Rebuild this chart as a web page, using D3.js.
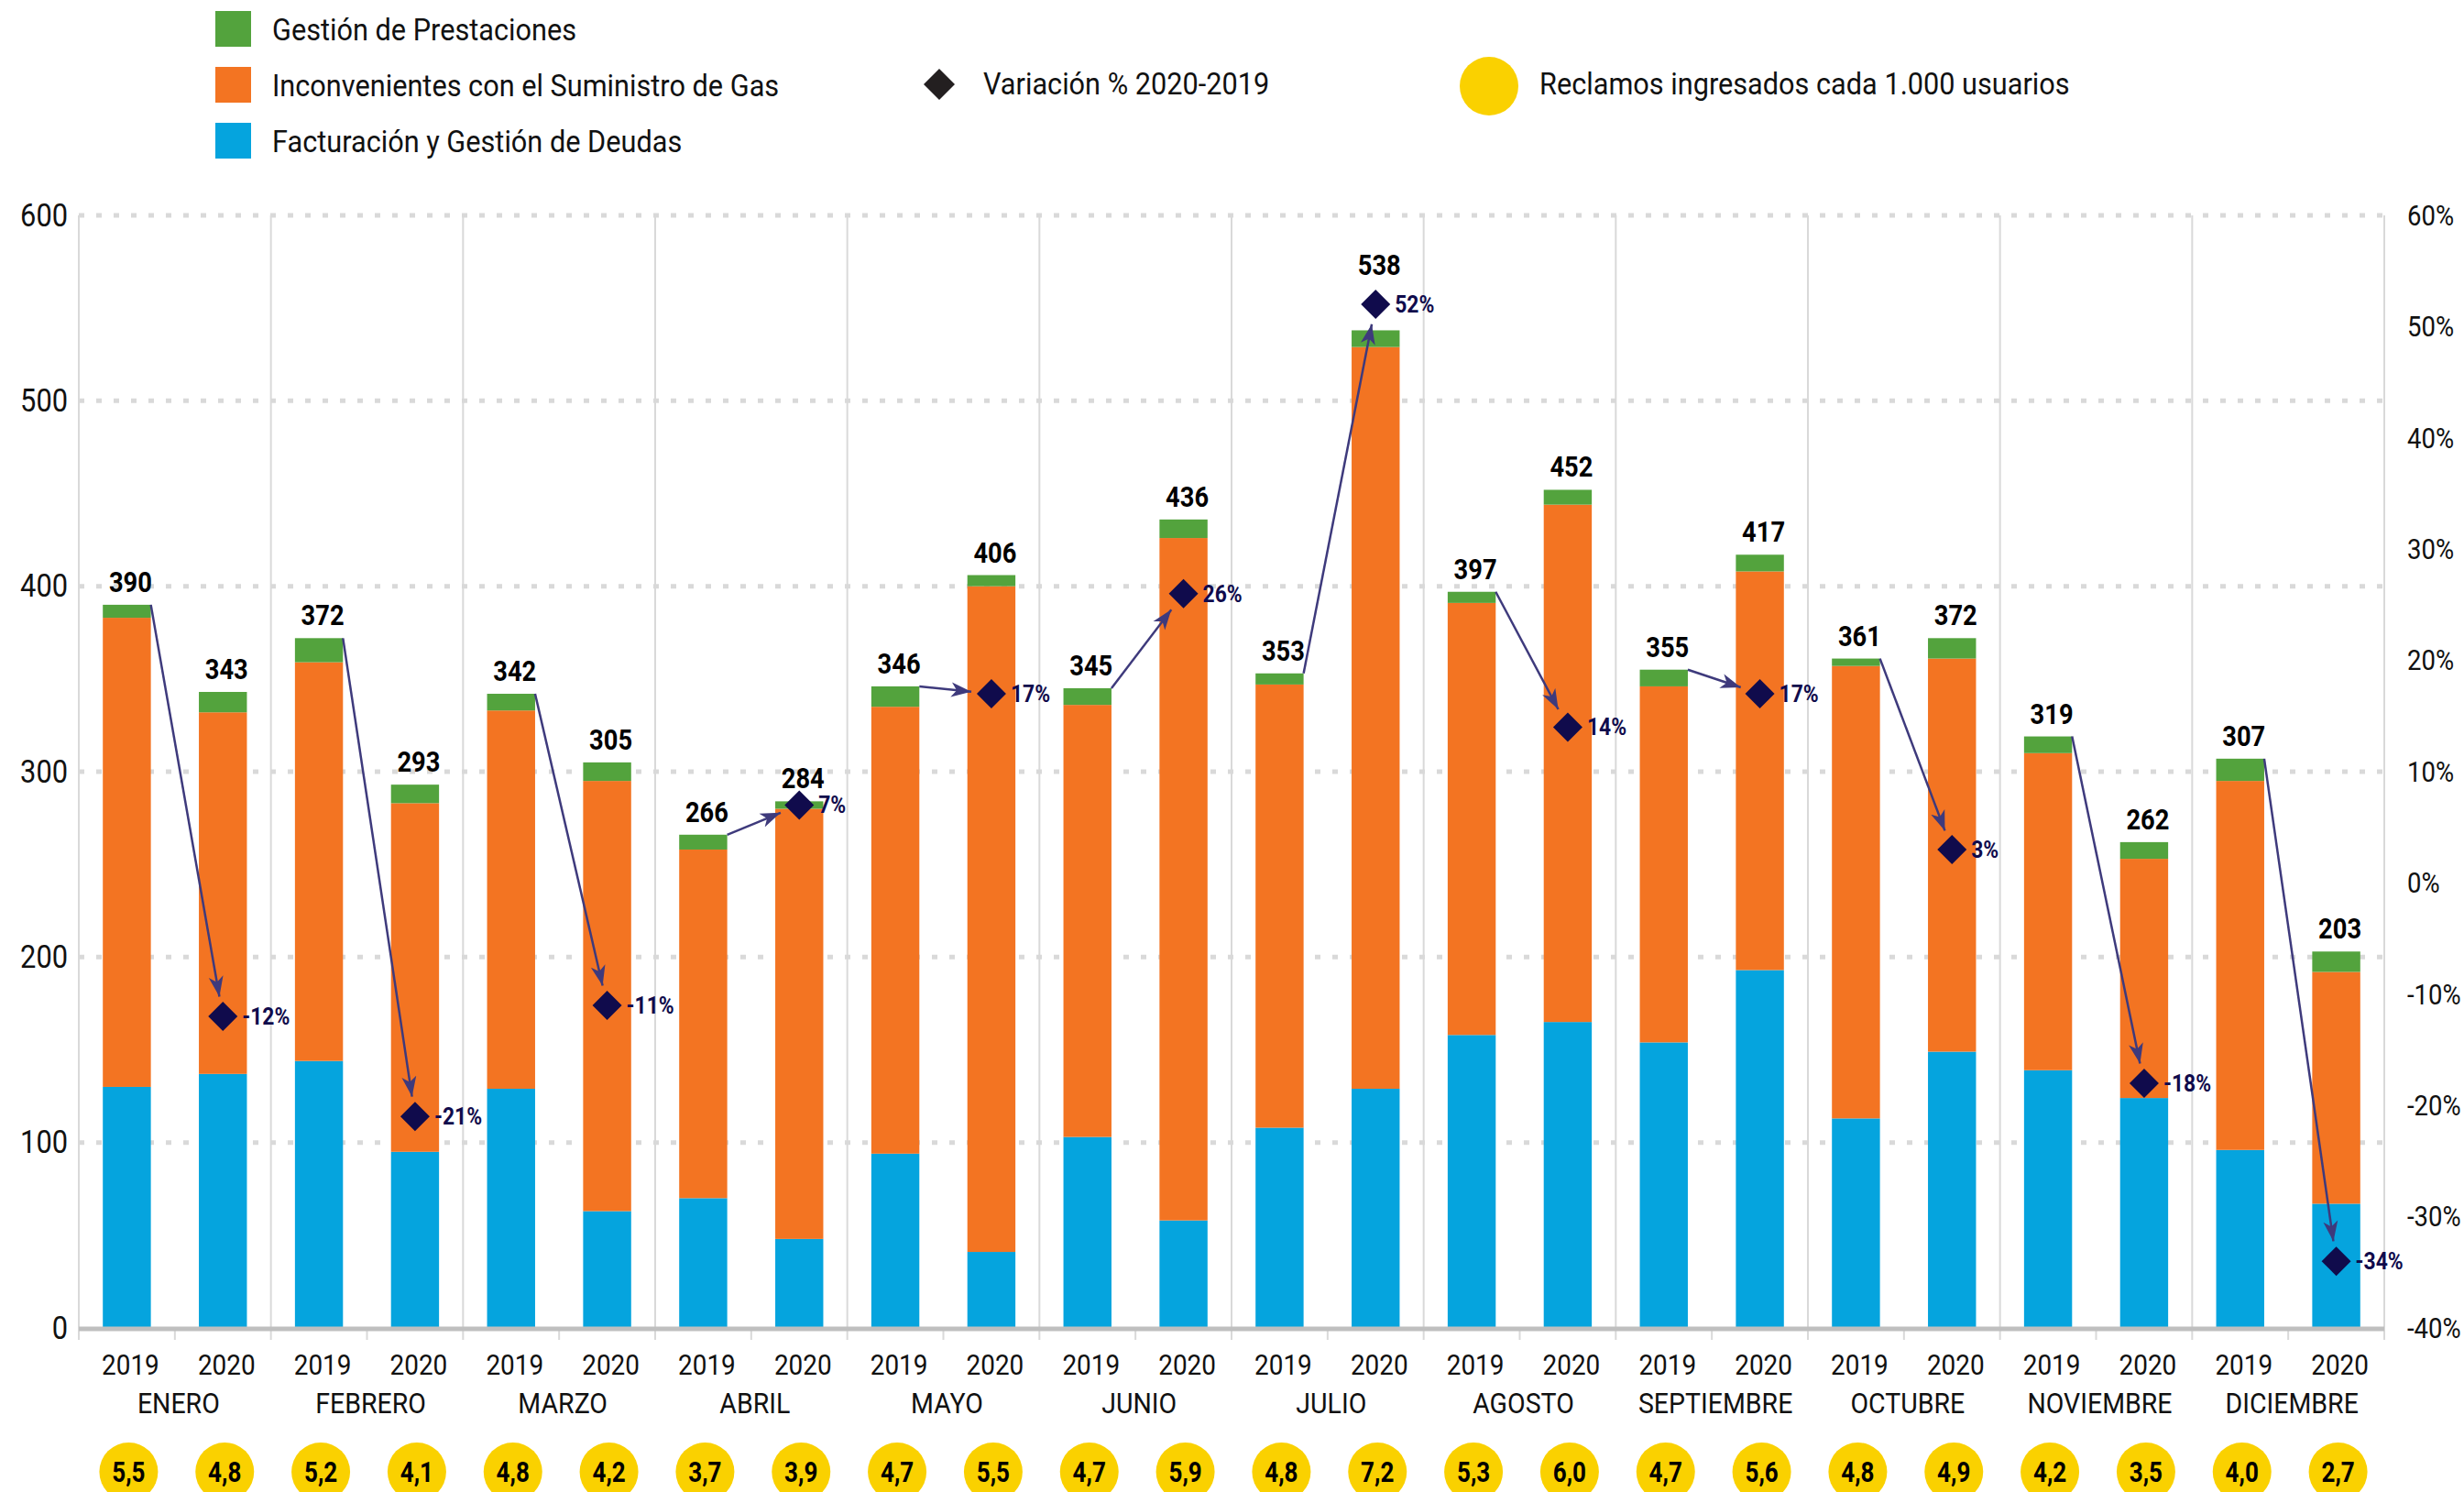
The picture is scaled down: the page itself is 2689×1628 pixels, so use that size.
<!DOCTYPE html>
<html>
<head>
<meta charset="utf-8">
<script src="https://cdn.jsdelivr.net/npm/d3@7"></script>
<style>
  body { margin: 0; background: #fff; }
  svg text { font-family: Roboto, "Liberation Sans", sans-serif; }
</style>
</head>
<body>
<div id="chart"></div>
<script>
// datos
var meses = ['ENERO','FEBRERO','MARZO','ABRIL','MAYO','JUNIO','JULIO','AGOSTO','SEPTIEMBRE','OCTUBRE','NOVIEMBRE','DICIEMBRE'];
var anios = ['2019','2020'];

var facturacion2019 = [130,144,129,70,94,103,108,158,154,113,139,96];
var facturacion2020 = [137,95,63,48,41,58,129,165,193,149,124,67];
var suministro2019  = [253,215,204,188,241,233,239,233,192,244,171,199];
var suministro2020  = [195,188,232,232,359,368,400,279,215,212,129,125];
var prestaciones2019 = [7,13,9,8,11,9,6,6,9,4,9,12];
var prestaciones2020 = [11,10,10,4,6,10,9,8,9,11,9,11];
var total2019 = [390,372,342,266,346,345,353,397,355,361,319,307];
var total2020 = [343,293,305,284,406,436,538,452,417,372,262,203];
var variacion = [-12,-21,-11,7,17,26,52,14,17,3,-18,-34];
var reclamos2019 = ['5,5','5,2','4,8','3,7','4,7','4,7','4,8','5,3','4,7','4,8','4,2','4,0'];
var reclamos2020 = ['4,8','4,1','4,2','3,9','5,5','5,9','7,2','6,0','5,6','4,9','3,5','2,7'];

var leftTicks = [0,100,200,300,400,500,600];
var rightTicks = [-40,-30,-20,-10,0,10,20,30,40,50,60];

var colors = {fact: '#05a4de', sum: '#f37422', prest: '#53a33d', yellow: '#fad100', navy: '#100b4c', arrow: '#3e3a7c'};

var W = 2689, H = 1628;
var plot = {left: 86, right: 2602, top: 235, bottom: 1449};

var svg = d3.select('#chart').append('svg')
    .attr('width', W)
    .attr('height', H);

// comprime horizontalmente el texto (imita una fuente condensada)
function condense(sel, k) {
  sel.each(function() {
    var t = d3.select(this);
    var x = +t.attr('x') || 0;
    t.attr('transform', 'translate(' + x + ',0) scale(' + k + ',1) translate(' + (-x) + ',0)');
  });
}

var defs = svg.append('defs');
defs.append('marker')
    .attr('id', 'flecha')
    .attr('markerUnits', 'userSpaceOnUse')
    .attr('markerWidth', 24).attr('markerHeight', 18)
    .attr('refX', 22).attr('refY', 9)
    .attr('orient', 'auto')
  .append('path')
    .attr('d', 'M0,1 L22,9 L0,17 L6,9 Z')
    .attr('fill', colors.arrow);

var x0 = d3.scaleBand().domain(meses).range([plot.left, plot.right]);
var x1 = d3.scaleBand().domain(anios).range([0, x0.bandwidth()]).paddingInner(0.5).paddingOuter(0.25);
var y = d3.scaleLinear().domain([0, 600]).range([plot.bottom, plot.top]);
var y2 = d3.scaleLinear().domain([-40, 60]).range([plot.bottom, plot.top]);

// centro de cada barra
function cx(mes, anio) { return x0(mes) + x1(anio) + x1.bandwidth() / 2; }

// grid horizontal punteado
svg.append('g').selectAll('line')
  .data(leftTicks.filter(function(d){ return d > 0; }))
  .enter().append('line')
    .attr('x1', plot.left).attr('x2', plot.right)
    .attr('y1', d => y(d)).attr('y2', d => y(d))
    .attr('stroke', '#d9d9d9')
    .attr('stroke-width', 5)
    .attr('stroke-dasharray', '6,13');

// separadores verticales entre meses
var seps = meses.map(m => x0(m)).concat([plot.right]);
svg.append('g').selectAll('line')
  .data(seps)
  .enter().append('line')
    .attr('x1', d => d).attr('x2', d => d)
    .attr('y1', plot.top).attr('y2', plot.bottom + 13)
    .attr('stroke', '#d9d9d9')
    .attr('stroke-width', 2);

// ticks cortos a mitad de cada mes
svg.append('g').selectAll('line')
  .data(meses)
  .enter().append('line')
    .attr('x1', d => x0(d) + x0.bandwidth() / 2).attr('x2', d => x0(d) + x0.bandwidth() / 2)
    .attr('y1', plot.bottom).attr('y2', plot.bottom + 13)
    .attr('stroke', '#d9d9d9')
    .attr('stroke-width', 2);

// filas para apilar
var rows = [];
meses.forEach(function(m, i) {
  rows.push({mes: m, anio: '2019', fact: facturacion2019[i], sum: suministro2019[i], prest: prestaciones2019[i], total: total2019[i], rec: reclamos2019[i], i: i});
  rows.push({mes: m, anio: '2020', fact: facturacion2020[i], sum: suministro2020[i], prest: prestaciones2020[i], total: total2020[i], rec: reclamos2020[i], i: i});
});

var stack = d3.stack().keys(['fact', 'sum', 'prest']);
var series = stack(rows);

svg.append('g').selectAll('g')
  .data(series)
  .enter().append('g')
    .attr('fill', d => colors[d.key])
  .selectAll('rect')
  .data(d => d)
  .enter().append('rect')
    .attr('x', d => x0(d.data.mes) + x1(d.data.anio))
    .attr('width', x1.bandwidth())
    .attr('y', d => y(d[1]))
    .attr('height', d => y(d[0]) - y(d[1]));

// eje en cero
svg.append('line')
    .attr('x1', plot.left).attr('x2', plot.right)
    .attr('y1', plot.bottom + 1).attr('y2', plot.bottom + 1)
    .attr('stroke', '#bfbfbf')
    .attr('stroke-width', 5);

// flechas 2019 -> variacion
var arrows = meses.map(function(m, i) {
  var sx = x0(m) + x1('2019') + x1.bandwidth();
  var sy = y(total2019[i]);
  var ex = cx(m, '2020');
  var ey = y2(variacion[i]);
  var len = Math.hypot(ex - sx, ey - sy);
  var k = (len - 22) / len;
  return {sx: sx, sy: sy, ex: sx + (ex - sx) * k, ey: sy + (ey - sy) * k};
});
svg.append('g').selectAll('line')
  .data(arrows)
  .enter().append('line')
    .attr('x1', d => d.sx).attr('y1', d => d.sy)
    .attr('x2', d => d.ex).attr('y2', d => d.ey)
    .attr('stroke', colors.arrow)
    .attr('stroke-width', 2.5)
    .attr('marker-end', 'url(#flecha)');

// rombos
var dg = svg.append('g');
dg.selectAll('path')
  .data(variacion)
  .enter().append('path')
    .attr('transform', (d, i) => 'translate(' + cx(meses[i], '2020') + ',' + y2(d) + ')')
    .attr('d', 'M0,-16 L16,0 L0,16 L-16,0 Z')
    .attr('fill', colors.navy);
dg.selectAll('text')
  .data(variacion)
  .enter().append('text')
    .attr('x', (d, i) => cx(meses[i], '2020') + 21)
    .attr('y', d => y2(d) + 9)
    .attr('font-size', '26px')
    .attr('font-weight', 'bold')
    .attr('fill', colors.navy)
    .text(d => d + '%')
    .call(condense, 0.88);

// etiquetas de totales
svg.append('g').selectAll('text')
  .data(rows)
  .enter().append('text')
    .attr('x', d => cx(d.mes, d.anio) + 4)
    .attr('y', function(d) {
      var yy = y(d.total) - 14;
      if (d.anio === '2020' && y2(variacion[d.i]) < y(d.total) - 5) {
        yy = Math.min(yy, y2(variacion[d.i]) - 32);
      }
      return yy;
    })
    .attr('text-anchor', 'middle')
    .attr('font-size', '31px')
    .attr('font-weight', 'bold')
    .attr('fill', '#000')
    .text(d => d.total)
    .call(condense, 0.88);

// eje izquierdo
var yAx = svg.append('g')
    .attr('transform', 'translate(' + plot.left + ',0)')
    .call(d3.axisLeft(y).tickValues(leftTicks).tickSize(0).tickPadding(12));
yAx.select('.domain').remove();
yAx.selectAll('text')
    .attr('font-size', '35px')
    .attr('fill', '#111')
    .attr('font-family', 'Roboto')
    .call(condense, 0.88);

// eje derecho
var y2Ax = svg.append('g')
    .attr('transform', 'translate(' + plot.right + ',0)')
    .call(d3.axisRight(y2).tickValues(rightTicks).tickSize(0).tickPadding(25).tickFormat(d => d + '%'));
y2Ax.select('.domain').remove();
y2Ax.selectAll('text')
    .attr('font-size', '32px')
    .attr('fill', '#111')
    .attr('font-family', 'Roboto')
    .call(condense, 0.86);

// anios y meses
svg.append('g').selectAll('text')
  .data(rows)
  .enter().append('text')
    .attr('x', d => cx(d.mes, d.anio) + 4)
    .attr('y', 1500)
    .attr('text-anchor', 'middle')
    .attr('font-size', '31px')
    .attr('fill', '#111')
    .text(d => d.anio)
    .call(condense, 0.9);

svg.append('g').selectAll('text')
  .data(meses)
  .enter().append('text')
    .attr('x', d => x0(d) + x0.bandwidth() / 2 + 4)
    .attr('y', 1542)
    .attr('text-anchor', 'middle')
    .attr('font-size', '31px')
    .attr('fill', '#111')
    .text(d => d)
    .call(condense, 0.92);

// circulos reclamos
var cg = svg.append('g').selectAll('g')
  .data(rows)
  .enter().append('g')
    .attr('transform', d => 'translate(' + (cx(d.mes, d.anio) + 2) + ',1606)');
cg.append('circle')
    .attr('r', 32)
    .attr('fill', colors.yellow);
cg.append('text')
    .attr('text-anchor', 'middle')
    .attr('dy', '0.35em')
    .attr('font-size', '31px')
    .attr('font-weight', 'bold')
    .attr('fill', '#000')
    .text(d => d.rec)
    .call(condense, 0.84);

// leyenda
var leg = [
  {label: 'Gestión de Prestaciones', color: colors.prest, y: 12},
  {label: 'Inconvenientes con el Suministro de Gas', color: colors.sum, y: 73},
  {label: 'Facturación y Gestión de Deudas', color: colors.fact, y: 134}
];
var lg = svg.append('g');
lg.selectAll('rect')
  .data(leg)
  .enter().append('rect')
    .attr('x', 235).attr('y', d => d.y)
    .attr('width', 39).attr('height', 39)
    .attr('fill', d => d.color);
lg.selectAll('text')
  .data(leg)
  .enter().append('text')
    .attr('x', 297).attr('y', d => d.y + 32)
    .attr('font-size', '33px')
    .attr('fill', '#111')
    .text(d => d.label)
    .call(condense, 0.93);

lg.append('path')
    .attr('transform', 'translate(1025,92)')
    .attr('d', 'M0,-17 L17,0 L0,17 L-17,0 Z')
    .attr('fill', '#231f20');
lg.append('text')
    .attr('x', 1073).attr('y', 103)
    .attr('font-size', '33px')
    .attr('fill', '#111')
    .text('Variación % 2020-2019')
    .call(condense, 0.93);

lg.append('circle')
    .attr('cx', 1625).attr('cy', 94)
    .attr('r', 32)
    .attr('fill', colors.yellow);
lg.append('text')
    .attr('x', 1680).attr('y', 103)
    .attr('font-size', '33px')
    .attr('fill', '#111')
    .text('Reclamos ingresados cada 1.000 usuarios')
    .call(condense, 0.93);
</script>
</body>
</html>
